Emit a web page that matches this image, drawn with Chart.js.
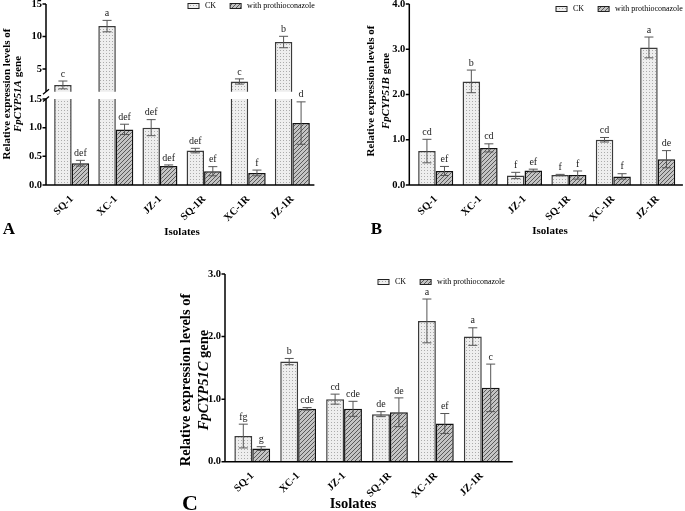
<!DOCTYPE html>
<html>
<head>
<meta charset="utf-8">
<script src="https://cdn.jsdelivr.net/npm/chart.js@4.4.0/dist/chart.umd.min.js"></script>
<style>
  body { margin: 0; width: 685px; height: 511px; overflow: hidden; position: relative; background: #fff;
         font-family: "Liberation Serif", "DejaVu Serif", serif; color: #000; }
  canvas.layer { position: absolute; left: 0; top: -20px; }
  .ytitle { position: absolute; transform: translate(-50%, -50%) rotate(-90deg); white-space: nowrap;
            font-weight: bold; line-height: 1; }
  .lbl { position: absolute; transform: translate(-50%, -50%); white-space: nowrap; font-weight: bold; line-height: 1; }
</style>
</head>
<body>
<canvas id="aTop" class="layer" width="685" height="531"></canvas>
<canvas id="aLow" class="layer" width="685" height="531"></canvas>
<canvas id="chartB" class="layer" width="685" height="531"></canvas>
<canvas id="chartC" class="layer" width="685" height="531"></canvas>

<div class="ytitle" style="left:5.5px; top:93.5px; font-size:11px;">Relative expression levels of</div>
<div class="ytitle" style="left:17px; top:93.5px; font-size:11px;"><i>FpCYP51A</i> gene</div>
<div class="ytitle" style="left:370px; top:91px; font-size:11px;">Relative expression levels of</div>
<div class="ytitle" style="left:385px; top:91px; font-size:11px;"><i>FpCYP51B</i> gene</div>
<div class="ytitle" style="left:185px; top:380px; font-size:14.5px;">Relative expression levels of</div>
<div class="ytitle" style="left:203px; top:380px; font-size:14.5px;"><i>FpCYP51C</i> gene</div>

<div class="lbl" style="left:182px; top:231px; font-size:11px;">Isolates</div>
<div class="lbl" style="left:550px; top:230px; font-size:11px;">Isolates</div>
<div class="lbl" style="left:353px; top:503px; font-size:14.5px;">Isolates</div>

<div class="lbl" style="left:9px; top:228px; font-size:17px;">A</div>
<div class="lbl" style="left:376.5px; top:228px; font-size:17px;">B</div>
<div class="lbl" style="left:190px; top:503px; font-size:22px;">C</div>

<script>
const OY = 20; // canvases sit 20px above the page top
const SERIF = '"Liberation Serif", "DejaVu Serif", serif';

const isolates = ['SQ-1', 'XC-1', 'JZ-1', 'SQ-1R', 'XC-1R', 'JZ-1R'];
const seriesNames = ['CK', 'with prothioconazole'];

// FpCYP51A (broken axis)
const ckA = [2.55, 11.6, 1.0, 0.6, 3.08, 9.15];
const ckErrA = [0.6, 0.88, 0.14, 0.04, 0.4, 0.88];
const trtA = [0.38, 0.97, 0.33, 0.24, 0.21, 1.08];
const trtErrA = [0.05, 0.09, 0.02, 0.08, 0.05, 0.37];
const ckLetA = ['c', 'a', 'def', 'def', 'c', 'b'];
const trtLetA = ['def', 'def', 'def', 'ef', 'f', 'd'];
const ticksAUpper = [5, 10, 15];
const ticksALower = [0, 0.5, 1.0, 1.5];

// FpCYP51B
const ckB = [0.75, 2.29, 0.21, 0.22, 1.0, 3.04];
const ckErrB = [0.26, 0.25, 0.07, 0.015, 0.05, 0.23];
const trtB = [0.31, 0.82, 0.32, 0.22, 0.19, 0.57];
const trtErrB = [0.1, 0.09, 0.03, 0.09, 0.06, 0.19];
const ckLetB = ['cd', 'b', 'f', 'f', 'cd', 'a'];
const trtLetB = ['ef', 'cd', 'ef', 'f', 'f', 'de'];
const ticksB = [0, 1, 2, 3, 4];

// FpCYP51C
const ckC = [0.41, 1.6, 1.0, 0.76, 2.25, 2.0];
const ckErrC = [0.19, 0.05, 0.08, 0.04, 0.35, 0.14];
const trtC = [0.21, 0.845, 0.845, 0.79, 0.61, 1.18];
const trtErrC = [0.03, 0.02, 0.12, 0.23, 0.16, 0.38];
const ckLetC = ['fg', 'b', 'cd', 'de', 'a', 'a'];
const trtLetC = ['g', 'cde', 'cde', 'de', 'ef', 'c'];
const ticksC = [0, 1, 2, 3];

function makeDots(ctx) {
  const c = document.createElement('canvas');
  c.width = 3; c.height = 3;
  const g = c.getContext('2d');
  g.fillStyle = '#eeeeee'; g.fillRect(0, 0, 3, 3);
  g.fillStyle = '#ababab'; g.fillRect(1, 1, 1, 1);
  return ctx.createPattern(c, 'repeat');
}

function makeHatch(ctx) {
  const c = document.createElement('canvas');
  c.width = 4; c.height = 4;
  const g = c.getContext('2d');
  g.fillStyle = '#c4c4c4'; g.fillRect(0, 0, 4, 4);
  g.fillStyle = '#5a5a5a';
  for (let i = 0; i < 4; i++) g.fillRect(3 - i, i, 1, 1);
  return ctx.createPattern(c, 'repeat');
}

// axis lines drawn a few px left of the plot, like the GraphPad original
const axisDecor = {
  id: 'axisDecor',
  afterDraw(chart, args, o) {
    const { ctx, chartArea: a, scales: { y } } = chart;
    const ax = a.left - o.gap;
    ctx.save();
    ctx.strokeStyle = '#000';
    ctx.lineWidth = 1.5;
    ctx.beginPath();
    ctx.moveTo(ax, a.top);
    ctx.lineTo(ax, a.bottom + (o.xLine ? 0.75 : 0));
    if (o.xLine) {
      ctx.moveTo(ax, a.bottom);
      ctx.lineTo(a.right + o.xExtend, a.bottom);
    }
    y.ticks.forEach(t => {
      const py = y.getPixelForValue(t.value);
      ctx.moveTo(ax - 3.5, py);
      ctx.lineTo(ax, py);
    });
    ctx.stroke();
    if (o.breakMark) {
      const by = o.breakMark === 'bottom' ? a.bottom : a.top;
      ctx.lineWidth = 1.3;
      ctx.beginPath();
      ctx.moveTo(ax - 3, by + 2.5);
      ctx.lineTo(ax + 3, by - 2.5);
      ctx.stroke();
    }
    ctx.restore();
  }
};

const errBars = {
  id: 'errBars',
  afterDatasetsDraw(chart) {
    const { ctx, scales: { y } } = chart;
    ctx.save();
    chart.data.datasets.forEach((ds, i) => {
      const meta = chart.getDatasetMeta(i);
      ds.data.forEach((v, j) => {
        if (v > y.max || v < y.min) return;
        const e = ds.errors[j];
        const x = meta.data[j].x;
        const top = y.getPixelForValue(v + e);
        const bot = y.getPixelForValue(v - e);
        ctx.strokeStyle = '#555';
        ctx.lineWidth = 1;
        ctx.beginPath();
        ctx.moveTo(x, top); ctx.lineTo(x, bot);
        ctx.moveTo(x - 4.5, top); ctx.lineTo(x + 4.5, top);
        ctx.moveTo(x - 4.5, bot); ctx.lineTo(x + 4.5, bot);
        ctx.stroke();
        ctx.fillStyle = '#222';
        ctx.font = '10px ' + SERIF;
        ctx.textAlign = 'center';
        ctx.textBaseline = 'bottom';
        ctx.fillText(ds.letters[j], x, top - 2);
      });
    });
    ctx.restore();
  }
};

const boxLegend = {
  id: 'boxLegend',
  afterDraw(chart, args, o) {
    if (!o.show) return;
    const ctx = chart.ctx;
    let x = o.x;
    const y = o.y + OY;
    ctx.save();
    ctx.font = '8px ' + SERIF;
    ctx.textBaseline = 'middle';
    chart.data.datasets.forEach(ds => {
      ctx.fillStyle = ds.backgroundColor;
      ctx.fillRect(x, y - 2.5, 11, 5);
      ctx.strokeStyle = '#222';
      ctx.lineWidth = 1;
      ctx.strokeRect(x, y - 2.5, 11, 5);
      ctx.fillStyle = '#000';
      ctx.fillText(ds.label, x + 17, y);
      x += 17 + ctx.measureText(ds.label).width + 14;
    });
    ctx.restore();
  }
};

function panel(id, c) {
  const ctx = document.getElementById(id).getContext('2d');
  const dots = makeDots(ctx);
  const hatch = makeHatch(ctx);
  const tickFont = { family: SERIF, weight: 'bold', size: 10.5 };
  return new Chart(ctx, {
    type: 'bar',
    data: {
      labels: isolates,
      datasets: [
        { label: seriesNames[0], data: c.ck, errors: c.ckErr, letters: c.ckLet,
          backgroundColor: dots, borderColor: '#3a3a3a', borderWidth: 1.5, clip: 0 },
        { label: seriesNames[1], data: c.trt, errors: c.trtErr, letters: c.trtLet,
          backgroundColor: hatch, borderColor: '#111', borderWidth: 1.5, clip: 0 }
      ]
    },
    options: {
      responsive: false,
      animation: false,
      devicePixelRatio: 1,
      events: [],
      layout: {
        padding: {
          left: c.left - 30,
          right: 685 - c.right,
          top: c.top + OY,
          bottom: 531 - (c.bottom + OY) - c.xH
        }
      },
      datasets: { bar: { categoryPercentage: c.cat, barPercentage: 1 } },
      scales: {
        x: {
          display: c.showX,
          grid: { display: false, drawTicks: false },
          border: { display: false },
          ticks: { autoSkip: false, minRotation: 45, maxRotation: 45, padding: 8, color: '#000', font: tickFont },
          afterFit: s => { if (c.showX) s.height = c.xH; }
        },
        y: {
          min: c.min,
          max: c.max,
          grid: { display: false, drawTicks: false },
          border: { display: false },
          ticks: { padding: c.gap + 4, color: '#000', font: tickFont, callback: c.fmt },
          afterBuildTicks: s => { s.ticks = c.ticks.map(v => ({ value: v })); },
          afterFit: s => { s.width = 30; }
        }
      },
      plugins: {
        legend: { display: false },
        tooltip: { enabled: false },
        axisDecor: { gap: c.gap, xLine: c.showX, xExtend: c.xExtend || 0, breakMark: c.breakMark },
        boxLegend: c.legend ? { show: true, x: c.legend.x, y: c.legend.y } : { show: false }
      }
    },
    plugins: [axisDecor, errBars, boxLegend]
  });
}

const oneDec = v => Number(v).toFixed(1);

panel('aTop', {
  ck: ckA, ckErr: ckErrA, ckLet: ckLetA, trt: trtA, trtErr: trtErrA, trtLet: trtLetA,
  min: 1.5, max: 15, ticks: ticksAUpper, fmt: v => String(v),
  left: 49.6, right: 314.4, top: 4, bottom: 91.75, gap: 3.6, cat: 0.793,
  showX: false, xH: 0, breakMark: 'bottom', legend: { x: 188, y: 6 }
});

panel('aLow', {
  ck: ckA, ckErr: ckErrA, ckLet: ckLetA, trt: trtA, trtErr: trtErrA, trtLet: trtLetA,
  min: 0, max: 1.5, ticks: ticksALower, fmt: oneDec,
  left: 49.6, right: 314.4, top: 99, bottom: 185, gap: 3.6, cat: 0.793,
  showX: true, xH: 40, breakMark: 'top'
});

panel('chartB', {
  ck: ckB, ckErr: ckErrB, ckLet: ckLetB, trt: trtB, trtErr: trtErrB, trtLet: trtLetB,
  min: 0, max: 4, ticks: ticksB, fmt: oneDec,
  left: 413.5, right: 679.9, top: 4, bottom: 185, gap: 4.2, cat: 0.79,
  showX: true, xH: 40, xExtend: 3, legend: { x: 556, y: 9 }
});

panel('chartC', {
  ck: ckC, ckErr: ckErrC, ckLet: ckLetC, trt: trtC, trtErr: trtErrC, trtLet: trtLetC,
  min: 0, max: 3, ticks: ticksC, fmt: oneDec,
  left: 229.3, right: 504.7, top: 274, bottom: 461.7, gap: 4.3, cat: 0.78,
  showX: true, xH: 40, xExtend: 8, legend: { x: 378, y: 282 }
});
</script>
</body>
</html>
